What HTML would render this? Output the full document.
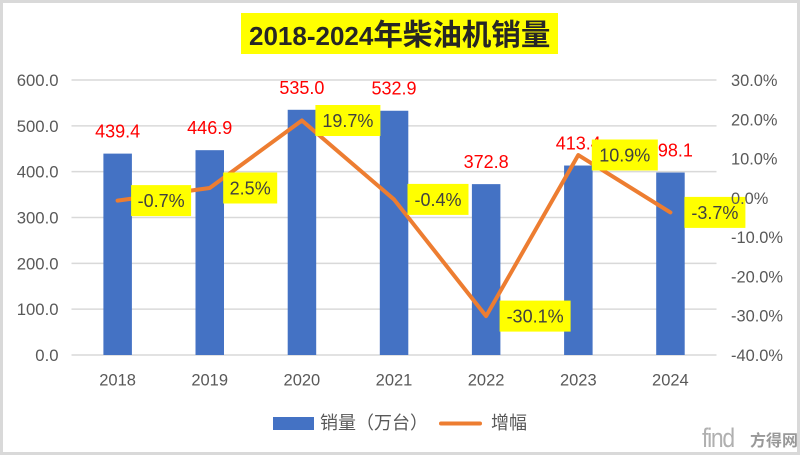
<!DOCTYPE html>
<html>
<head>
<meta charset="utf-8">
<style>
html,body{margin:0;padding:0;background:#fff;}
svg{display:block;}
text{font-family:"Liberation Sans","Noto Sans CJK SC",sans-serif;}
</style>
</head>
<body>
<svg width="800" height="455" viewBox="0 0 800 455" xmlns="http://www.w3.org/2000/svg">
  <rect x="0" y="0" width="800" height="455" fill="#ffffff"/>
  <rect x="1.5" y="1.5" width="797" height="452" fill="none" stroke="#d9d9d9" stroke-width="3"/>

  <!-- Title -->
  <rect x="241" y="13" width="317" height="41" fill="#ffff00"/>
  <text x="249" y="45" fill="#262626" font-weight="bold"><tspan font-size="26">2018-2024</tspan><tspan font-size="29.5" font-family="Noto Sans CJK SC, sans-serif">年柴油机销量</tspan></text>

  <!-- Gridlines -->
  <g stroke="#d9d9d9" stroke-width="1.5">
    <line x1="71.5" y1="80" x2="716.5" y2="80"/>
    <line x1="71.5" y1="125.83" x2="716.5" y2="125.83"/>
    <line x1="71.5" y1="171.67" x2="716.5" y2="171.67"/>
    <line x1="71.5" y1="217.5" x2="716.5" y2="217.5"/>
    <line x1="71.5" y1="263.33" x2="716.5" y2="263.33"/>
    <line x1="71.5" y1="309.17" x2="716.5" y2="309.17"/>
    <line x1="71.5" y1="355" x2="716.5" y2="355"/>
  </g>

  <!-- Left axis labels -->
  <g fill="#595959" font-size="16.7" text-anchor="end">
    <text x="58.5" y="86">600.0</text>
    <text x="58.5" y="131.8">500.0</text>
    <text x="58.5" y="177.7">400.0</text>
    <text x="58.5" y="223.5">300.0</text>
    <text x="58.5" y="269.3">200.0</text>
    <text x="58.5" y="315.2">100.0</text>
    <text x="58.5" y="361">0.0</text>
  </g>

  <!-- Bars -->
  <g fill="#4472c4">
    <rect x="103.4" y="153.61" width="28.5" height="201.39"/>
    <rect x="195.5" y="150.18" width="28.5" height="204.82"/>
    <rect x="287.7" y="109.79" width="28.5" height="245.21"/>
    <rect x="379.8" y="110.75" width="28.5" height="244.25"/>
    <rect x="471.9" y="184.13" width="28.5" height="170.87"/>
    <rect x="564.1" y="165.53" width="28.5" height="189.47"/>
    <rect x="656.2" y="172.54" width="28.5" height="182.46"/>
  </g>

  <!-- X axis labels -->
  <g fill="#595959" font-size="16.5" text-anchor="middle">
    <text x="117.6" y="385.7">2018</text>
    <text x="209.7" y="385.7">2019</text>
    <text x="301.9" y="385.7">2020</text>
    <text x="394.0" y="385.7">2021</text>
    <text x="486.1" y="385.7">2022</text>
    <text x="578.3" y="385.7">2023</text>
    <text x="670.4" y="385.7">2024</text>
  </g>

  <!-- Bar value labels -->
  <g fill="#ff0000" font-size="18" text-anchor="middle">
    <text x="117.6" y="137.6">439.4</text>
    <text x="209.7" y="134.2">446.9</text>
    <text x="301.9" y="93.8">535.0</text>
    <text x="394.0" y="94.7">532.9</text>
    <text x="486.1" y="168.1">372.8</text>
    <text x="578.3" y="149.5">413.4</text>
    <text x="670.4" y="156.5">398.1</text>
  </g>

  <!-- Line -->
  <polyline fill="none" stroke="#ed7d31" stroke-width="4" stroke-linejoin="round" stroke-linecap="round"
    points="117.6,200.61 209.7,188.04 301.9,120.46 394.0,199.43 486.1,316.11 578.3,155.04 670.4,212.39"/>

  <!-- Percentage labels -->
  <g font-size="18" fill="#404040" text-anchor="middle">
    <rect x="131.1" y="185.1" width="60" height="31" fill="#ffff00"/>
    <text x="161.1" y="207.1">-0.7%</text>
    <rect x="223.2" y="172.5" width="54" height="31" fill="#ffff00"/>
    <text x="250.2" y="194.5">2.5%</text>
    <rect x="315.4" y="105" width="65" height="31" fill="#ffff00"/>
    <text x="347.9" y="127">19.7%</text>
    <rect x="407.5" y="183.9" width="61" height="31" fill="#ffff00"/>
    <text x="438" y="205.9">-0.4%</text>
    <rect x="499.6" y="300.6" width="71" height="31" fill="#ffff00"/>
    <text x="535.1" y="322.6">-30.1%</text>
    <rect x="591.8" y="139.5" width="66" height="31" fill="#ffff00"/>
    <text x="624.8" y="161.5">10.9%</text>
    <rect x="684.4" y="196.9" width="61" height="31" fill="#ffff00"/>
    <text x="714.9" y="218.9">-3.7%</text>
  </g>

  <!-- Right axis labels -->
  <g fill="#595959" font-size="16.4" text-anchor="start">
    <text x="731" y="86">30.0%</text>
    <text x="731" y="125.3">20.0%</text>
    <text x="731" y="164.6">10.0%</text>
    <text x="731" y="203.9">0.0%</text>
    <text x="731" y="243.1">-10.0%</text>
    <text x="731" y="282.4">-20.0%</text>
    <text x="731" y="321.7">-30.0%</text>
    <text x="731" y="361">-40.0%</text>
  </g>

  <!-- Legend -->
  <rect x="273" y="417" width="41" height="13" fill="#4472c4"/>
  <text x="320" y="429" font-size="18" fill="#595959" font-family="Noto Sans CJK SC, sans-serif">销量（万台）</text>
  <line x1="441" y1="423.5" x2="480" y2="423.5" stroke="#ed7d31" stroke-width="4" stroke-linecap="round"/>
  <text x="491" y="429" font-size="18" fill="#595959" font-family="Noto Sans CJK SC, sans-serif">增幅</text>

  <!-- Watermark -->
  <text x="702" y="447" font-size="27" fill="#b0b0b0" font-family="DejaVu Sans, sans-serif" letter-spacing="-1.5" transform="translate(702,447) scale(0.85,1) translate(-702,-447)">find</text>
  <text x="750" y="446" font-size="16" fill="#999999" font-weight="bold" font-family="Noto Sans CJK SC, sans-serif">方得网</text>
</svg>
</body>
</html>
